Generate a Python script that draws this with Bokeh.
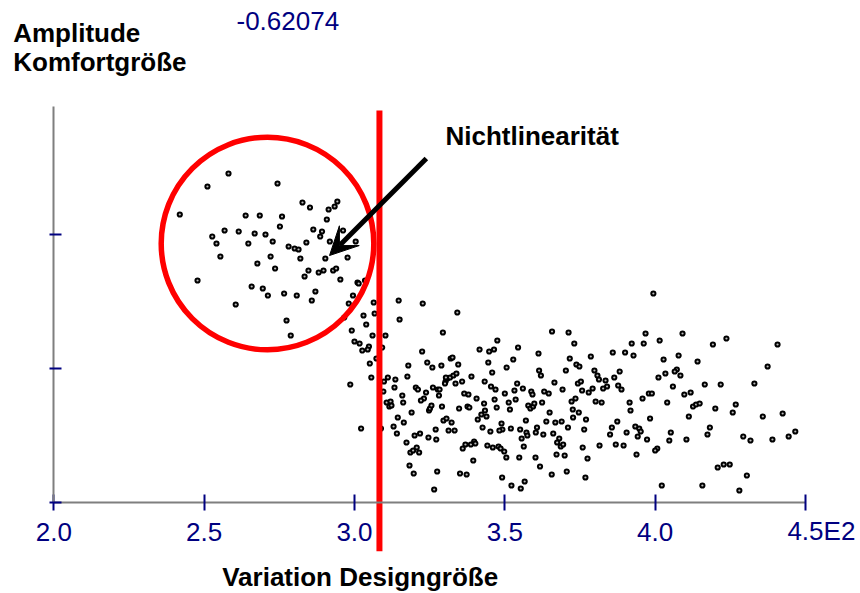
from bokeh.plotting import figure
from bokeh.models import Range1d, FixedTicker, Arrow, VeeHead
from bokeh.embed import file_html
from bokeh.resources import INLINE
from bokeh.core.properties import value

# ---------------- data ----------------
x_ticks = [200, 250, 300, 350, 400, 450]
x_tick_labels = ["2.0", "2.5", "3.0", "3.5", "4.0", "4.5E2"]
y_ticks = [0.0, 1.34, 2.68]
y_axis_top = 3.96
y_top_value_label = "-0.62074"
threshold_x = 308.3          # red vertical line (Variation Designgröße)
nonlin_center = (271.07, 2.59)  # centre of the red circle (data units)

# Design variation (x) of every sample
design_x = [
    # left cluster (nonlinear region)
    258.1, 251.1, 274.4, 241.9, 282.7, 285.2, 291.4, 293.4, 294.3, 290.8,
    263.8, 268.5, 275.9, 275.2, 256.8, 252.7, 254.1, 261.5, 266.8, 270.4,
    264.7, 272.8, 286.3, 289.2, 288.6, 296.2, 284.0, 278.1, 280.1, 281.4,
    291.8, 300.4, 255.4, 272.1, 282.0, 290.3, 297.7, 267.7, 273.6, 284.7,
    288.1, 289.7, 292.9, 293.9, 283.4, 295.3, 247.8, 265.8, 269.5, 271.2,
    276.6, 280.8, 287.0, 285.8, 260.5, 277.4, 278.8, 301.0, 301.4, 303.5,
    299.5, 298.1, 306.4, 314.7, 303.0, 306.7, 315.0, 296.6, 303.9, 299.1,
    306.0, 310.3, 300.0, 301.7, 304.8, 302.6, 304.4, 309.2, 307.3,
    # middle band
    322.7, 334.2, 329.4, 365.7, 371.2, 373.1, 347.5, 354.4, 341.6, 344.8,
    346.4, 322.5, 361.2, 352.8, 371.6, 378.6, 332.0, 332.6, 324.2, 325.9,
    328.9, 334.5, 344.5, 350.6, 373.8, 374.8, 317.9, 345.8, 361.4, 362.0,
    370.3, 379.8, 380.8, 381.3, 298.6, 305.6, 305.1, 302.2, 309.8, 311.1,
    313.6, 313.3, 309.6, 317.6, 310.7, 312.0, 311.6, 312.3, 315.9, 316.2,
    314.4, 313.0, 316.4, 319.0, 314.1, 308.8, 317.3, 318.6, 319.5, 320.7,
    321.5, 318.3, 319.7, 327.5, 326.5, 335.1, 337.3, 320.0, 321.8, 324.6,
    327.2, 327.0, 324.8, 325.1, 325.6, 323.1, 322.1, 323.8, 320.4, 321.1,
    326.1, 327.7, 328.3, 328.1, 329.1, 329.6, 330.6, 332.3, 331.3, 333.3,
    330.3, 330.9, 330.4, 331.8, 332.9, 333.9, 330.1, 333.6, 335.8, 338.9,
    343.3, 336.5, 337.9, 340.6, 334.8, 337.6, 338.2, 341.0, 342.2, 343.4,
    343.9, 343.1, 342.6, 345.2, 345.4, 346.9, 346.6, 347.3, 350.0, 351.3,
    351.7, 353.6, 353.2, 354.1, 356.0, 348.9, 349.2, 348.2, 352.0, 336.0,
    336.9, 338.7, 339.8, 340.2, 339.5, 344.2, 346.0, 347.9, 348.6, 349.8,
    350.5, 354.8, 356.3, 355.6, 355.1, 357.2, 357.5, 357.0, 349.1, 352.2,
    355.3, 356.6, 358.8, 359.2, 357.8, 358.5, 359.4, 359.8, 362.4, 363.1,
    364.6, 366.5, 369.2, 360.3, 360.7, 362.8, 363.8, 364.9, 366.8, 368.9,
    366.1, 368.1, 367.4, 368.6, 369.4, 367.2, 369.9, 360.2, 361.7, 365.6,
    370.6, 376.8, 371.0, 372.6, 372.2, 373.5, 374.6, 372.7, 377.0, 376.4,
    375.9, 377.5, 374.3, 375.3, 375.7, 377.9, 379.2, 380.2, 381.5,
    # right band
    399.4, 396.8, 409.1, 392.2, 396.2, 401.5, 423.7, 419.2, 440.7, 385.9,
    390.0, 392.8, 407.8, 402.8, 414.1, 437.4, 388.2, 386.4, 383.5, 407.2,
    406.5, 403.4, 408.4, 401.1, 387.7, 388.8, 384.0, 382.7, 405.9, 416.5,
    421.8, 433.0, 397.9, 398.9, 395.8, 409.7, 411.8, 391.5, 382.2, 404.0,
    412.6, 413.6, 414.8, 426.8, 420.0, 425.8, 391.8, 398.3, 411.2, 435.8,
    442.4, 387.4, 385.6, 393.4, 394.7, 395.2, 418.2, 385.0, 390.5, 394.2,
    405.2, 417.4, 446.6, 444.4, 429.3, 431.7, 439.0, 397.3, 410.4, 404.7,
    386.9, 389.5, 400.7, 400.0, 393.8, 420.8, 422.8, 424.8, 430.5, 402.2,
    415.7, 428.0,
]

# Comfort amplitude (y, arbitrary units, axis ticks at 0 / 1.34 / 2.68)
comfort_y = [
    # left cluster
    3.29, 3.16, 3.19, 2.88, 3.00, 2.95, 2.93, 2.96, 3.01, 2.83,
    2.87, 2.87, 2.86, 2.76, 2.72, 2.66, 2.59, 2.71, 2.69, 2.68,
    2.59, 2.61, 2.73, 2.71, 2.66, 2.72, 2.60, 2.56, 2.54, 2.53,
    2.61, 2.61, 2.46, 2.46, 2.44, 2.44, 2.45, 2.39, 2.34, 2.32,
    2.30, 2.32, 2.32, 2.34, 2.26, 2.23, 2.22, 2.16, 2.14, 2.07,
    2.09, 2.07, 2.11, 2.02, 1.98, 1.82, 1.67, 2.20, 2.19, 2.22,
    2.07, 1.99, 2.00, 2.02, 1.87, 1.89, 1.83, 1.85, 1.78, 1.72,
    1.67, 1.67, 1.61, 1.59, 1.56, 1.52, 1.53, 1.55, 1.44,
    # middle band
    1.99, 1.90, 1.70, 1.71, 1.70, 1.59, 1.62, 1.55, 1.53, 1.51,
    1.53, 1.51, 1.49, 1.43, 1.44, 1.46, 1.44, 1.45, 1.40, 1.35,
    1.37, 1.38, 1.40, 1.35, 1.38, 1.36, 1.37, 1.30, 1.32, 1.27,
    1.32, 1.32, 1.27, 1.23, 1.18, 1.25, 1.39, 0.74, 1.21, 1.25,
    1.23, 1.15, 1.11, 1.26, 1.00, 1.01, 0.96, 0.97, 1.07, 1.00,
    0.85, 0.76, 0.80, 0.90, 0.69, 0.74, 0.60, 0.50, 0.52, 0.55,
    0.50, 0.37, 0.29, 0.31, 0.13, 0.29, 0.28, 0.67, 0.69, 0.65,
    0.63, 0.73, 0.92, 0.94, 0.97, 1.04, 1.02, 1.10, 1.15, 1.13,
    1.15, 1.13, 1.13, 1.07, 0.96, 0.82, 0.84, 0.80, 0.72, 0.72,
    1.21, 1.24, 1.25, 1.25, 1.27, 1.29, 1.19, 1.19, 1.21, 1.26,
    1.21, 1.09, 1.08, 1.04, 0.94, 0.96, 0.95, 0.83, 0.88, 0.92,
    0.86, 0.99, 0.75, 0.71, 1.16, 1.13, 1.03, 0.95, 1.09, 1.00,
    0.93, 1.03, 1.12, 1.19, 1.14, 0.79, 0.73, 0.72, 0.74, 0.54,
    0.58, 0.58, 0.61, 0.59, 0.42, 0.57, 0.55, 0.56, 0.54, 0.51,
    0.45, 0.45, 0.56, 0.64, 0.73, 0.70, 0.67, 0.82, 0.25, 0.17,
    0.14, 0.21, 1.11, 1.08, 0.97, 0.94, 0.96, 0.99, 1.00, 1.11,
    1.09, 1.20, 1.13, 0.70, 0.75, 0.68, 0.81, 0.90, 0.80, 0.81,
    0.69, 0.64, 0.60, 0.56, 0.58, 0.48, 0.47, 0.45, 0.36, 0.28,
    0.31, 0.25, 0.75, 0.93, 1.01, 1.04, 0.90, 0.85, 0.83, 0.73,
    0.55, 0.44, 1.19, 1.21, 1.12, 1.10, 1.14, 1.01, 0.57,
    # right band
    2.09, 1.69, 1.69, 1.59, 1.59, 1.62, 1.64, 1.58, 1.58, 1.50,
    1.50, 1.47, 1.47, 1.43, 1.41, 1.36, 1.31, 1.25, 1.22, 1.33,
    1.31, 1.29, 1.27, 1.25, 1.17, 1.13, 1.16, 1.14, 1.16, 1.18,
    1.18, 1.19, 1.09, 1.09, 1.04, 1.08, 1.10, 1.00, 1.00, 1.00,
    0.96, 0.98, 0.99, 0.98, 0.94, 0.90, 0.92, 0.84, 0.86, 0.86,
    0.89, 0.81, 0.75, 0.76, 0.74, 0.71, 0.75, 0.68, 0.70, 0.66,
    0.70, 0.68, 0.71, 0.66, 0.66, 0.62, 0.63, 0.63, 0.63, 0.62,
    0.58, 0.57, 0.54, 0.52, 0.48, 0.35, 0.38, 0.38, 0.27, 0.17,
    0.17, 0.12,
]
assert len(design_x) == len(comfort_y)

NAVY = "#000080"
FONT = value("Liberation Sans")

# frame covers the whole canvas; axes are pinned at data positions
p = figure(width=860, height=593, output_backend="svg", toolbar_location=None,
           x_range=Range1d(182.27, 468.29), y_range=Range1d(-0.91, 5.02),
           min_border=0, min_border_left=0, min_border_right=0,
           min_border_top=0, min_border_bottom=0)
p.outline_line_color = None
p.background_fill_color = "white"
p.border_fill_color = "white"
p.xgrid.visible = False
p.ygrid.visible = False

# x axis
xa = p.xaxis[0]
xa.fixed_location = 0
xa.bounds = (x_ticks[0], x_ticks[-1])
xa.ticker = FixedTicker(ticks=x_ticks)
overrides = {t: lab for t, lab in zip(x_ticks, x_tick_labels)}
overrides[x_ticks[-1]] = ""          # drawn separately (label runs on to the right)
xa.major_label_overrides = overrides
xa.axis_line_color = "#7f7f7f"
xa.axis_line_width = 2
xa.major_tick_line_color = NAVY
xa.major_tick_line_width = 2
xa.major_tick_in = 8
xa.major_tick_out = 8
xa.minor_tick_line_color = None
xa.major_label_text_font = "Liberation Sans"
xa.major_label_text_font_size = "26px"
xa.major_label_text_color = NAVY
xa.major_label_standoff = 12

# y axis (ticks without labels)
ya = p.yaxis[0]
ya.fixed_location = x_ticks[0]
ya.bounds = (0, y_axis_top)
ya.ticker = FixedTicker(ticks=y_ticks)
ya.axis_line_color = "#7f7f7f"
ya.axis_line_width = 2
ya.major_tick_line_color = NAVY
ya.major_tick_line_width = 2
ya.major_tick_in = 8
ya.major_tick_out = 4
ya.minor_tick_line_color = None
ya.major_label_text_alpha = 0
ya.major_label_text_font_size = "10px"

# data points
p.scatter(design_x, comfort_y, marker="circle", size=4.2, line_color="black",
          line_width=2.0, fill_color="#bbbbbb")

# red threshold line and red circle marking the nonlinearity
p.segment(x0=[threshold_x], y0=[3.92], x1=[threshold_x], y1=[-0.487],
          line_color="#ff0000", line_width=6)
p.circle(x=[nonlin_center[0]], y=[nonlin_center[1]], radius=106.3,
         radius_units="screen", fill_color=None, line_color="#ff0000",
         line_width=5.5)

# arrow pointing into the circle
p.add_layout(Arrow(end=VeeHead(size=28, fill_color="black", line_color="black"),
                   x_start=323.9, y_start=3.44, x_end=291.7, y_end=2.47,
                   line_width=5, line_color="black"))

# texts
p.text(x=[330.26], y=[3.663], text=["Nichtlinearität"], text_font=FONT,
       text_font_style="bold", text_font_size="26px", text_color="black",
       text_align="left", text_baseline="alphabetic")
p.text(x=[186.5, 186.5], y=[4.694, 4.403], text=["Amplitude", "Komfortgröße"],
       text_font=FONT, text_font_style="bold", text_font_size="26px",
       text_color="black", text_align="left", text_baseline="alphabetic")
p.text(x=[260.76], y=[4.813], text=[y_top_value_label], text_font=FONT,
       text_font_size="26px", text_color=NAVY, text_align="left",
       text_baseline="alphabetic")
p.text(x=[256.0], y=[-0.747], text=["Variation Designgröße"], text_font=FONT,
       text_font_style="bold", text_font_size="26px", text_color="black",
       text_align="left", text_baseline="alphabetic")
p.text(x=[x_ticks[-1]], y=[0], text=[x_tick_labels[-1]], x_offset=-18.1,
       y_offset=28, text_font=FONT, text_font_size="26px", text_color=NAVY,
       text_align="left", text_baseline="alphabetic")

open("out.html", "w").write(file_html(p, INLINE))
